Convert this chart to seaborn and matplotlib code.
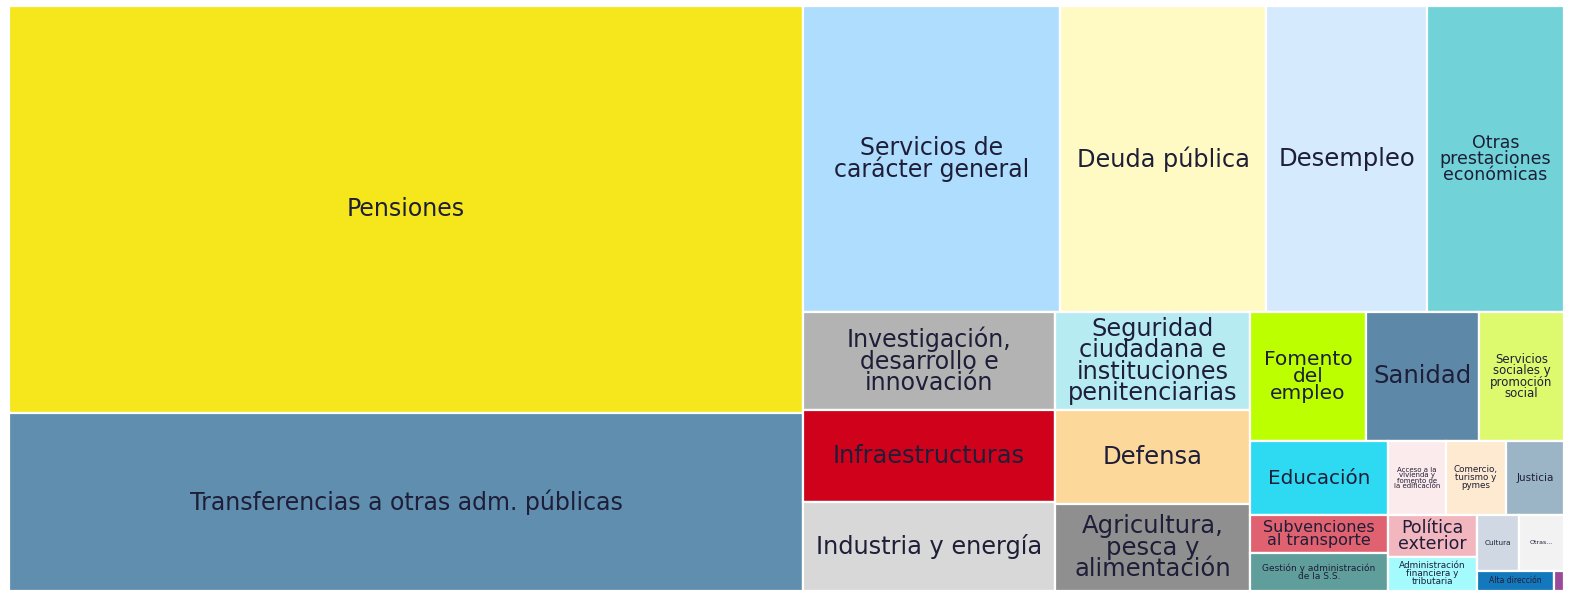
import matplotlib
matplotlib.use("Agg")
import matplotlib.pyplot as plt
from matplotlib.patches import Rectangle
import seaborn as sns

# Gasto por políticas (millones de euros)
names = [
    "Pensiones", "Transferencias a otras adm. públicas",
    "Servicios de carácter general", "Deuda pública", "Desempleo",
    "Otras prestaciones económicas",
    "Investigación, desarrollo e innovación", "Infraestructuras", "Industria y energía",
    "Seguridad ciudadana e instituciones penitenciarias", "Defensa",
    "Agricultura, pesca y alimentación",
    "Fomento del empleo", "Sanidad", "Servicios sociales y promoción social",
    "Educación", "Subvenciones al transporte", "Gestión y administración de la S.S.",
    "Acceso a la vivienda y fomento de la edificación", "Comercio, turismo y pymes",
    "Justicia",
    "Política exterior", "Administración financiera y tributaria",
    "Cultura", "Otras actuaciones de carácter económico",
    "Alta dirección", "Imprevistos y funciones no clasificadas",
]
values = [
    190430, 83620,
    46490, 37100, 29070, 24730,
    14570, 13680, 13230,
    11280, 10820, 10010,
    8830, 8600, 6470,
    6030, 3090, 3090,
    2530, 2620, 2530,
    2210, 1790,
    1390, 1490,
    910, 120,
]
labels = [
    "Pensiones", "Transferencias a otras adm. públicas",
    "Servicios de\ncarácter general", "Deuda pública", "Desempleo",
    "Otras\nprestaciones\neconómicas",
    "Investigación,\ndesarrollo e\ninnovación", "Infraestructuras", "Industria y energía",
    "Seguridad\nciudadana e\ninstituciones\npenitenciarias", "Defensa",
    "Agricultura,\npesca y\nalimentación",
    "Fomento\ndel\nempleo", "Sanidad", "Servicios\nsociales y\npromoción\nsocial",
    "Educación", "Subvenciones\nal transporte", "Gestión y administración\nde la S.S.",
    "Acceso a la\nvivienda y\nfomento de\nla edificación", "Comercio,\nturismo y\npymes",
    "Justicia",
    "Política\nexterior", "Administración\nfinanciera y\ntributaria",
    "Cultura", "Otras...",
    "Alta dirección", "",
]
colors = [
    "#F6E71D", "#5F8EAE",
    "#AEDDFE", "#FFFAC4", "#D6EAFD", "#71D3D7",
    "#B3B3B3", "#D0021B", "#D8D8D8",
    "#B6ECF1", "#FDD89B", "#8F8F8F",
    "#BBFF00", "#5D88A8", "#DDFA6E",
    "#2ED9F2", "#E0616F", "#5F9E9B",
    "#FCEBEC", "#FDEAD0", "#9CB5C6",
    "#F2B6BF", "#A4FBFD",
    "#CFD8E3", "#F2F2F2",
    "#1479BC", "#9B4A98",
]
# strips: orientation ("v" = column on the left, "h" = row on top) and number of cells
strips = [("v", 2), ("h", 4), ("v", 3), ("v", 3), ("h", 3), ("v", 3),
          ("h", 3), ("v", 2), ("h", 2), ("h", 2)]

font_sizes = {
    "Pensiones": 17, "Transferencias a otras adm. públicas": 17,
    "Servicios de carácter general": 17, "Deuda pública": 17.3, "Desempleo": 17.5,
    "Otras prestaciones económicas": 12.5,
    "Investigación, desarrollo e innovación": 17, "Infraestructuras": 17.3,
    "Industria y energía": 17.3,
    "Seguridad ciudadana e instituciones penitenciarias": 17.3, "Defensa": 17.5,
    "Agricultura, pesca y alimentación": 17.5,
    "Fomento del empleo": 14.5, "Sanidad": 17.5, "Servicios sociales y promoción social": 8.5,
    "Educación": 14.3, "Subvenciones al transporte": 11.5, "Gestión y administración de la S.S.": 6.5,
    "Acceso a la vivienda y fomento de la edificación": 5, "Comercio, turismo y pymes": 6.3,
    "Justicia": 7.5, "Política exterior": 12.5, "Administración financiera y tributaria": 6.4,
    "Cultura": 5.2, "Otras actuaciones de carácter económico": 4.5, "Alta dirección": 5.5,
}


def strip_layout(vals, strips, x=0.0, y=0.0, w=1.0, h=1.0):
    """Slice the unit square into strips, each strip split by value."""
    rects = []
    remaining = sum(vals)
    i = 0
    for orient, n in strips:
        chunk = vals[i:i + n]
        s = sum(chunk)
        if orient == "v":
            sw = w * s / remaining
            cy = y
            for v in chunk:
                ch = h * v / s
                rects.append((x, cy, sw, ch))
                cy += ch
            x += sw
            w -= sw
        else:
            sh = h * s / remaining
            cx = x
            for v in chunk:
                cw = w * v / s
                rects.append((cx, y, cw, sh))
                cx += cw
            y += sh
            h -= sh
        remaining -= s
        i += n
    return rects


sns.set_theme(style="white")
plt.rcParams["font.family"] = ["DejaVu Sans"]

fig = plt.figure(figsize=(15.72, 6.0), dpi=100)
ax = fig.add_axes([9 / 1572, 9 / 600, 1555 / 1572, 585 / 600])
ax.set_xlim(0, 1)
ax.set_ylim(1, 0)
ax.axis("off")

rects = strip_layout(values, strips)
for name, lab, col, (x, y, w, h) in zip(names, labels, colors, rects):
    ax.add_patch(Rectangle((x, y), w, h, facecolor=col, edgecolor="white", linewidth=1.6))
    if lab:
        ax.text(x + w / 2, y + h / 2, lab, ha="center", va="center",
                fontsize=font_sizes.get(name, 5), color="#1e1e38", linespacing=0.86)

fig.savefig("out.png", dpi=100)
